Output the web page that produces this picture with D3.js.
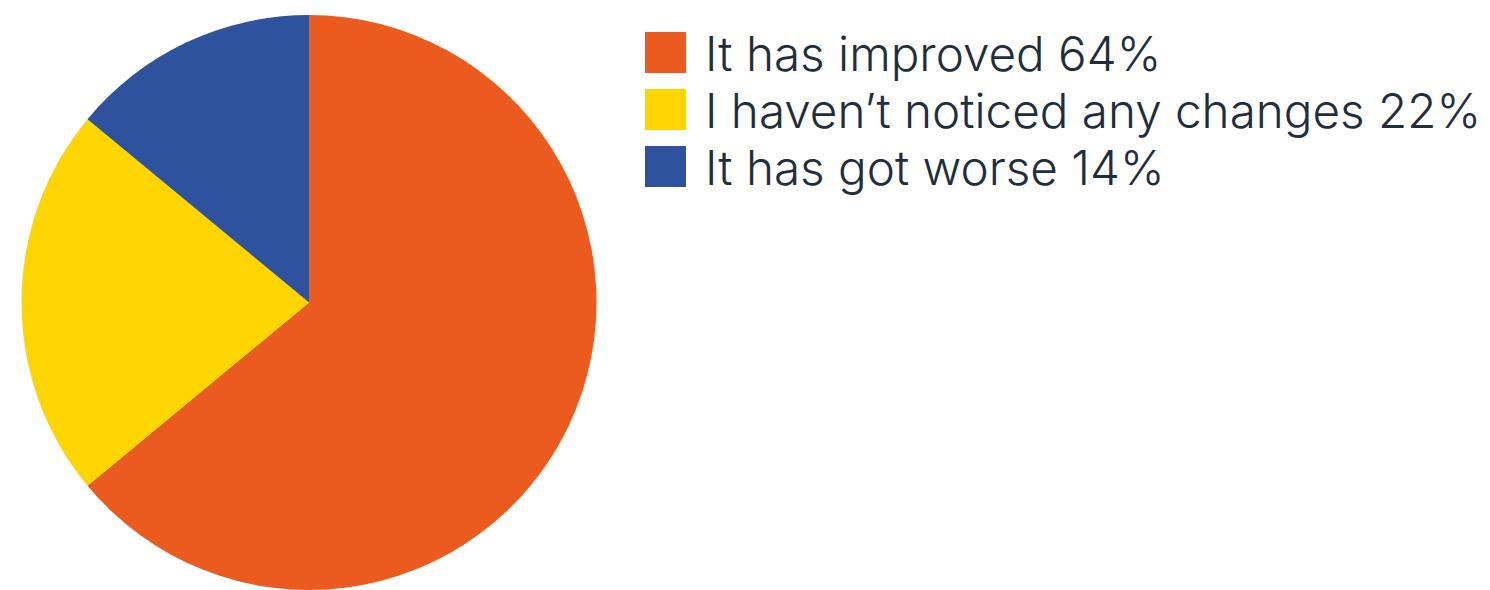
<!DOCTYPE html>
<html>
<head>
<meta charset="utf-8">
<script src="https://cdn.jsdelivr.net/npm/d3@7"></script>
<style>
  html, body { margin: 0; padding: 0; background: #fff; }
  svg { display: block; }
</style>
</head>
<body>
<svg id="chart" width="1490" height="590"></svg>
<script>
// Survey answers and their shares (percent)
const categories = ["It has improved", "I haven\u2019t noticed any changes", "It has got worse"];
const values = [64, 22, 14];
const colors = ["#EB5B1F", "#FFD500", "#2F529E"];

const svg = d3.select("#chart");
const cx = 309, cy = 302.5, radius = 287.5;

const data = categories.map((c, i) => ({ label: c, value: values[i], color: colors[i] }));

const pie = d3.pie().value(d => d.value).sort(null);
const arc = d3.arc().innerRadius(0).outerRadius(radius);

svg.append("g")
  .attr("transform", `translate(${cx},${cy})`)
  .selectAll("path")
  .data(pie(data))
  .join("path")
  .attr("d", arc)
  .attr("fill", d => d.data.color);

// Legend
const legend = svg.append("g").attr("transform", "translate(645,32)");
const row = legend.selectAll("g")
  .data(data)
  .join("g")
  .attr("transform", (d, i) => `translate(0,${i * 57})`);

row.append("rect")
  .attr("width", 41).attr("height", 41)
  .attr("fill", d => d.color);

row.append("text")
  .attr("x", 60).attr("y", 39)
  .attr("font-family", "Inter, 'Noto Sans', sans-serif")
  .attr("font-size", 47.6)
  .attr("font-weight", 300)
  .attr("fill", "#1f2e3d")
  .text(d => `${d.label} ${d.value}%`);
</script>
</body>
</html>
